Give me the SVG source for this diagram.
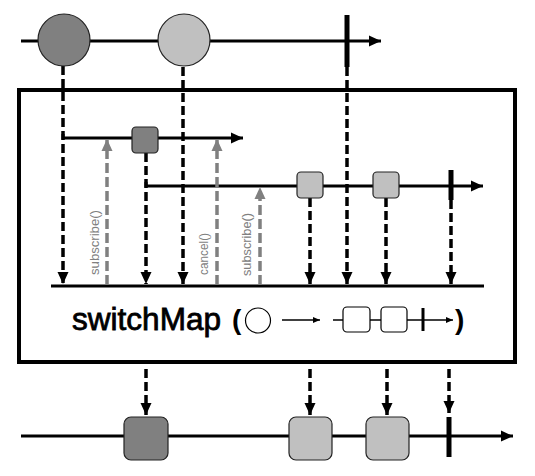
<svg xmlns="http://www.w3.org/2000/svg" width="535" height="476" viewBox="0 0 535 476">
<style>
.line{stroke:#000;stroke-width:3;fill:none}
.dash{stroke:#000;stroke-width:3.5;stroke-dasharray:9 4;fill:none}
.gdash{stroke:#808080;stroke-width:3.5;stroke-dasharray:10 4;fill:none}
.dark{fill:#808080;stroke:#222;stroke-width:1.2}
.light{fill:#c0c0c0;stroke:#222;stroke-width:1.2}
.term{stroke:#000;stroke-width:5}
.lbl{font-family:"Liberation Sans",Arial,sans-serif;font-size:12.5px;fill:#808080}
.thin{stroke:#000;stroke-width:1.5;fill:none}
.hand{font-family:"Liberation Sans",Arial,sans-serif;fill:#000}
</style>
<defs>
<marker id="ah" markerWidth="13" markerHeight="13" refX="12" refY="6.5" orient="auto" markerUnits="userSpaceOnUse"><path d="M0,1 L12,6.5 L0,12 Z" fill="#000"/></marker>
<marker id="ag" markerWidth="13" markerHeight="13" refX="12" refY="6.5" orient="auto" markerUnits="userSpaceOnUse"><path d="M0,1 L12,6.5 L0,12 Z" fill="#808080"/></marker>
<marker id="as" markerWidth="8" markerHeight="8" refX="7" refY="4" orient="auto" markerUnits="userSpaceOnUse"><path d="M0,1 L7,4 L0,7 Z" fill="#000"/></marker>
</defs>

<g id="box"><rect x="19" y="90" width="496" height="272" fill="none" stroke="#000" stroke-width="4"/></g>

<g id="connectors">
<line class="line" x1="21" y1="41" x2="381" y2="41" marker-end="url(#ah)"/>
<polyline class="line" points="63,134 63,138 243,138" marker-end="url(#ah)"/>
<polyline class="line" points="146,182 146,186 483,186" marker-end="url(#ah)"/>
<line class="line" x1="51" y1="286" x2="484" y2="286"/>
<line class="line" x1="21" y1="436" x2="513" y2="436" marker-end="url(#ah)"/>
<line class="dash" x1="63" y1="66" x2="63" y2="284" marker-end="url(#ah)"/>
<line class="dash" x1="183" y1="67" x2="183" y2="284" marker-end="url(#ah)"/>
<line class="dash" x1="146" y1="153" x2="146" y2="284" marker-end="url(#ah)"/>
<line class="dash" x1="347" y1="67" x2="347" y2="284" marker-end="url(#ah)"/>
<line class="dash" x1="310" y1="198" x2="310" y2="284" marker-end="url(#ah)"/>
<line class="dash" x1="386" y1="198" x2="386" y2="284" marker-end="url(#ah)"/>
<line class="dash" x1="451" y1="200" x2="451" y2="284" marker-end="url(#ah)"/>
<line class="gdash" x1="107" y1="285" x2="107" y2="139" marker-end="url(#ag)"/>
<line class="gdash" x1="217" y1="285" x2="217" y2="139" marker-end="url(#ag)"/>
<line class="gdash" x1="260" y1="285" x2="260" y2="187" marker-end="url(#ag)"/>
<line class="dash" x1="146" y1="369" x2="146" y2="415" marker-end="url(#ah)"/>
<line class="dash" x1="310" y1="369" x2="310" y2="415" marker-end="url(#ah)"/>
<line class="dash" x1="387" y1="369" x2="387" y2="415" marker-end="url(#ah)"/>
<line class="dash" x1="449" y1="369" x2="449" y2="413" marker-end="url(#ah)"/>
</g>

<g id="source">
<circle class="dark" cx="64" cy="40" r="26"/>
<circle class="light" cx="184" cy="40" r="26"/>
<line class="term" x1="347" y1="15" x2="347" y2="67"/>
</g>

<g id="inner1"><rect class="dark" x="132" y="127" width="26" height="26" rx="4"/></g>
<g id="inner2">
<rect class="light" x="297" y="172" width="26" height="26" rx="4"/>
<rect class="light" x="373" y="172" width="26" height="26" rx="4"/>
<line class="term" x1="451" y1="170" x2="451" y2="200"/>
</g>

<g id="labels">
<text class="lbl" transform="translate(99,275) rotate(-90)" textLength="65" lengthAdjust="spacingAndGlyphs">subscribe()</text>
<text class="lbl" transform="translate(208,275) rotate(-90)" textLength="42" lengthAdjust="spacingAndGlyphs">cancel()</text>
<text class="lbl" transform="translate(251,276) rotate(-90)" textLength="63" lengthAdjust="spacingAndGlyphs">subscribe()</text>
</g>

<g id="formula">
<text class="hand" x="72" y="330" font-size="32" stroke="#000" stroke-width="0.8" textLength="149" lengthAdjust="spacingAndGlyphs">switchMap</text>
<text class="hand" x="232" y="329" font-size="28" font-weight="bold">(</text>
<circle cx="258" cy="320.5" r="12.5" fill="#fff" stroke="#000" stroke-width="1.2"/>
<line class="thin" x1="282" y1="320" x2="320" y2="320" marker-end="url(#as)"/>
<line class="thin" x1="333" y1="320" x2="453" y2="320" marker-end="url(#as)"/>
<rect x="343" y="307" width="27" height="25" rx="4" fill="#fff" stroke="#000" stroke-width="1.2"/>
<rect x="381" y="307" width="26" height="25" rx="4" fill="#fff" stroke="#000" stroke-width="1.2"/>
<line x1="423" y1="308" x2="423" y2="331" stroke="#000" stroke-width="3"/>
<text class="hand" x="455" y="329" font-size="28" font-weight="bold">)</text>
</g>

<g id="result">
<rect class="dark" x="124" y="417" width="44" height="43" rx="7"/>
<rect class="light" x="289" y="417" width="43" height="43" rx="7"/>
<rect class="light" x="366" y="417" width="43" height="43" rx="7"/>
<line class="term" x1="449" y1="417" x2="449" y2="457"/>
</g>
</svg>
